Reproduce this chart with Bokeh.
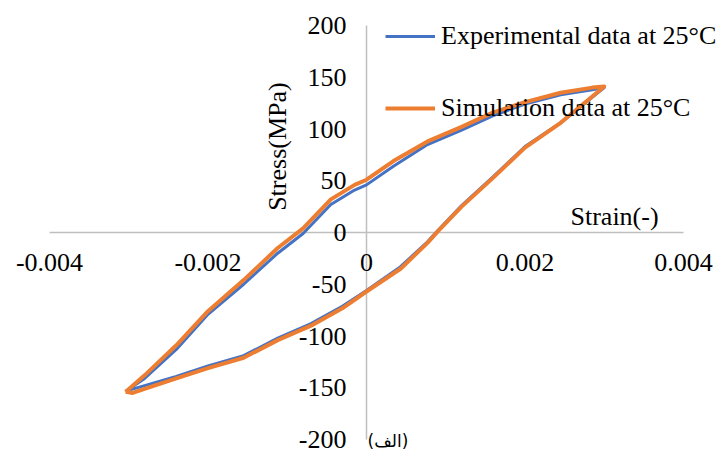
import math
from bokeh.plotting import figure
from bokeh.models import Range1d, Legend, LegendItem, Label
from bokeh.embed import file_html
from bokeh.resources import INLINE

# ---- data ----
exp_strain = [-0.00303, -0.0028, -0.0024, -0.002, -0.00155, -0.00112, -0.0008, -0.00045, -0.00015, 0.0,
              0.00034, 0.00077, 0.0012, 0.0016, 0.002, 0.00245, 0.00285, 0.003,
              0.00245, 0.002, 0.0016, 0.0012, 0.0009, 0.00077, 0.00043, 0.0, -0.0003, -0.0007,
              -0.00112, -0.00155, -0.002, -0.0024, -0.0028, -0.00303]
exp_stress = [-153, -141, -113, -79, -50, -20, -1, 27, 41, 46,
              64, 85, 99, 113, 124, 133, 138, 140,
              106, 83, 54, 26, 2, -9, -33, -56, -71, -88,
              -102, -119, -129, -139, -148, -153]

sim_strain = [-0.00304, -0.0028, -0.0024, -0.002, -0.00155, -0.00112, -0.0008, -0.00045, -0.00015, 0.0,
              0.00034, 0.00077, 0.0012, 0.0016, 0.002, 0.00245, 0.00285, 0.003,
              0.00245, 0.002, 0.0016, 0.0012, 0.0009, 0.00077, 0.00043, 0.0, -0.0003, -0.0007,
              -0.00112, -0.00155, -0.002, -0.0024, -0.0028, -0.00295, -0.00304]
sim_stress = [-154, -138, -109, -76, -46, -15, 4, 32, 46, 51,
              69, 88, 102, 116, 126, 135, 140, 141,
              106, 82, 53, 25, 1, -10, -35, -57, -73, -90,
              -104, -121, -131, -141, -151, -155, -154]

x_ticks = [-0.004, -0.002, 0.0, 0.002, 0.004]
x_tick_labels = ["-0.004", "-0.002", "0", "0.002", "0.004"]
y_ticks = [-200, -150, -100, -50, 0, 50, 100, 150, 200]
y_tick_labels = ["-200", "-150", "-100", "-50", "0", "50", "100", "150", "200"]

series_names = ["Experimental data at 25°C", "Simulation data at 25°C"]
x_title = "Strain(-)"
y_title = "Stress(MPa)"
panel_tag = "(الف)"

# ---- figure ----
W, H = 726, 455
x_min, x_max = -0.004, 0.004
y_min, y_max = -200, 200
# pixel placement of the data box within the canvas
left_px, right_px, top_px, bottom_px = 49, 683, 25, 439
sx = (x_max - x_min) / (right_px - left_px)
sy = (y_max - y_min) / (bottom_px - top_px)

p = figure(width=W, height=H, output_backend="svg", toolbar_location=None,
           x_axis_type=None, y_axis_type=None,
           x_range=Range1d(x_min - left_px * sx, x_max + (W - right_px) * sx),
           y_range=Range1d(y_min - (H - bottom_px) * sy, y_max + top_px * sy),
           min_border=0, min_border_left=0, min_border_right=0,
           min_border_top=0, min_border_bottom=0)
p.outline_line_color = None
p.grid.visible = False
p.background_fill_color = "white"
p.border_fill_color = "white"

FONT = "Liberation Serif"
FS = "26px"
axis_color = "#BFBFBF"

# axis lines crossing at the origin
p.segment(x0=[x_min], y0=[0], x1=[x_max], y1=[0], line_color=axis_color, line_width=1.5)
p.segment(x0=[0], y0=[y_min], x1=[0], y1=[y_max], line_color=axis_color, line_width=1.5)

# tick labels (30px below / 20px left of the axis lines)
for xv, lab in zip(x_ticks, x_tick_labels):
    p.add_layout(Label(x=xv, y=0 - 30 * sy, text=lab, text_align="center",
                       text_baseline="middle", text_font=FONT, text_font_size=FS,
                       text_color="black"))
for yv, lab in zip(y_ticks, y_tick_labels):
    p.add_layout(Label(x=0 - 20 * sx, y=yv, text=lab, text_align="right",
                       text_baseline="middle", text_font=FONT, text_font_size=FS,
                       text_color="black"))

# axis titles
p.add_layout(Label(x=0 - 89 * sx, y=83, text=y_title, angle=math.pi / 2,
                   text_align="center", text_baseline="middle", text_font=FONT,
                   text_font_size=FS, text_color="black"))
p.add_layout(Label(x=0.00313, y=15.5, text=x_title,
                   text_align="center", text_baseline="middle", text_font=FONT,
                   text_font_size=FS, text_color="black"))

# panel tag
p.add_layout(Label(x=0 + 1 * sx, y=-201, text=panel_tag,
                   text_align="left", text_baseline="middle", text_font="DejaVu Sans",
                   text_font_size="17px", text_color="black"))

# data lines
r_exp = p.line(exp_strain, exp_stress, line_color="#4472C4", line_width=3, line_join="round")
r_sim = p.line(sim_strain, sim_stress, line_color="#ED7D31", line_width=4, line_join="round")

legend = Legend(items=[LegendItem(label=series_names[0], renderers=[r_exp]),
                       LegendItem(label=series_names[1], renderers=[r_sim])],
                location=(385, 332), orientation="vertical",
                label_text_font=FONT, label_text_font_size=FS,
                label_text_color="black", glyph_width=50, glyph_height=30,
                label_height=30, label_standoff=6, spacing=42, padding=0, margin=0,
                border_line_color=None, background_fill_alpha=0)
p.add_layout(legend, "center")

open("out.html", "w").write(file_html(p, INLINE))
